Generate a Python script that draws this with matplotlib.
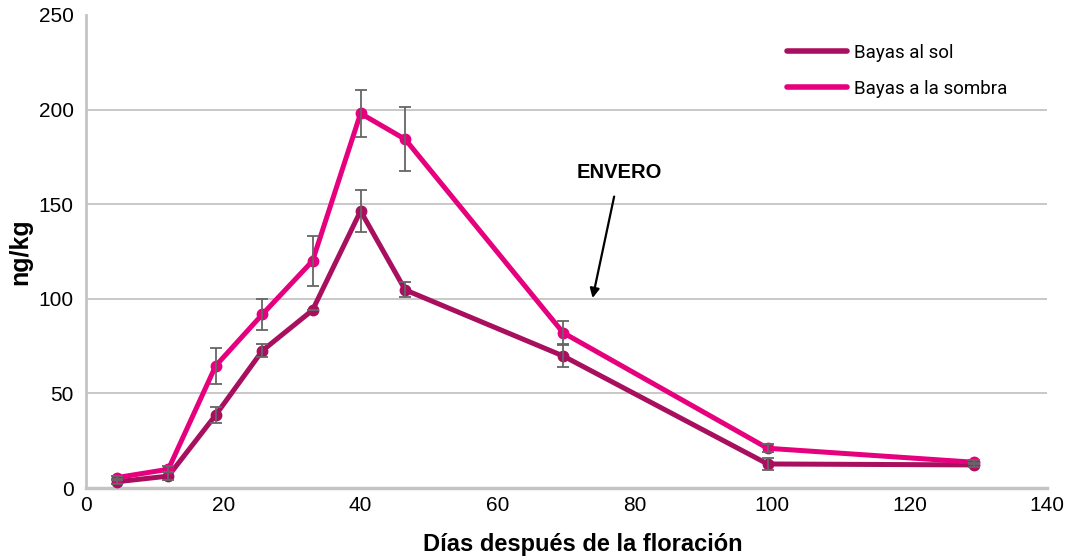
import matplotlib
matplotlib.use("Agg")
import matplotlib.pyplot as plt

plt.rcParams['font.family'] = ['Liberation Sans', 'DejaVu Sans']

days_shade = [4.5, 12, 18.9, 25.7, 33, 40, 46.5, 69.5, 99.3, 129.4]
shade = [5.5, 9.9, 64.6, 91.8, 120, 198, 184.3, 82.1, 21, 13.6]
shade_err = [1, 1.5, 9.5, 8.2, 13, 12.3, 17, 6, 2, 1]

days_sun = [4.5, 12, 18.9, 25.7, 33, 40, 46.5, 69.5, 99.3, 129.4]
sun = [3.3, 6.3, 38.6, 72.6, 94, 146.4, 104.7, 69.8, 12.7, 12.2]
sun_err = [1, 2, 4, 3.5, 0, 11.3, 4, 6, 3, 1]

series_labels = ["Bayas al sol", "Bayas a la sombra"]
xticks = [0, 20, 40, 60, 80, 100, 120, 140]
yticks = [0, 50, 100, 150, 200, 250]

c_sun = '#A80F5E'
c_shade = '#E6007E'

fig = plt.figure(figsize=(10.65, 5.57), dpi=100)
ax = fig.add_axes([86/1065, 1-488/557, (1047-86)/1065, (488-15)/557])

ax.errorbar(days_sun, sun, yerr=sun_err, fmt='none', ecolor='#666666',
            elinewidth=1.3, capsize=4, capthick=1.3, zorder=4)
ax.errorbar(days_shade, shade, yerr=shade_err, fmt='none', ecolor='#666666',
            elinewidth=1.3, capsize=4, capthick=1.3, zorder=4)
ax.plot(days_sun, sun, color=c_sun, lw=3.6, marker='o', ms=7.5,
        solid_capstyle='round', label=series_labels[0], zorder=3)
ax.plot(days_shade, shade, color=c_shade, lw=3.6, marker='o', ms=7.5,
        solid_capstyle='round', label=series_labels[1], zorder=3)

ax.set_xlim(0, 140)
ax.set_ylim(0, 250)
ax.set_xticks(xticks)
ax.set_yticks(yticks)
ax.tick_params(length=0, labelsize=15, pad=6)
ax.tick_params(axis='y', pad=9)
for y in [50, 100, 150, 200]:
    ax.axhline(y, color='#c4c4c4', lw=1.3, zorder=1)
for s in ['top', 'right']:
    ax.spines[s].set_visible(False)
ax.spines['left'].set_color('#c4c4c4')
ax.spines['left'].set_linewidth(2)
ax.spines['bottom'].set_color('#c4c4c4')
ax.spines['bottom'].set_linewidth(2.5)

ax.set_ylabel('ng/kg', fontsize=18, fontweight='bold')
ax.yaxis.set_label_coords(-54/961, 0.5)
ax.set_xlabel('Días después de la floración', fontsize=17, fontweight='bold')
ax.xaxis.set_label_coords(0.517, -45/473)

ax.annotate('ENVERO', xy=(73.8, 100.4), xytext=(77.7, 167), ha='center', va='center',
            fontsize=14.5, fontweight='bold',
            arrowprops=dict(arrowstyle='-|>', color='black', lw=1.6,
                            mutation_scale=14, shrinkA=9, shrinkB=0))

leg = ax.legend(loc='upper left', bbox_to_anchor=(0.712, 0.975), frameon=False,
                prop={'family': ['Roboto', 'DejaVu Sans'], 'size': 13.5},
                handlelength=3.2, handletextpad=0.35, labelspacing=0.95)
for line in leg.get_lines():
    line.set_marker('')
    line.set_linewidth(4)

fig.savefig('out.png', dpi=100)
